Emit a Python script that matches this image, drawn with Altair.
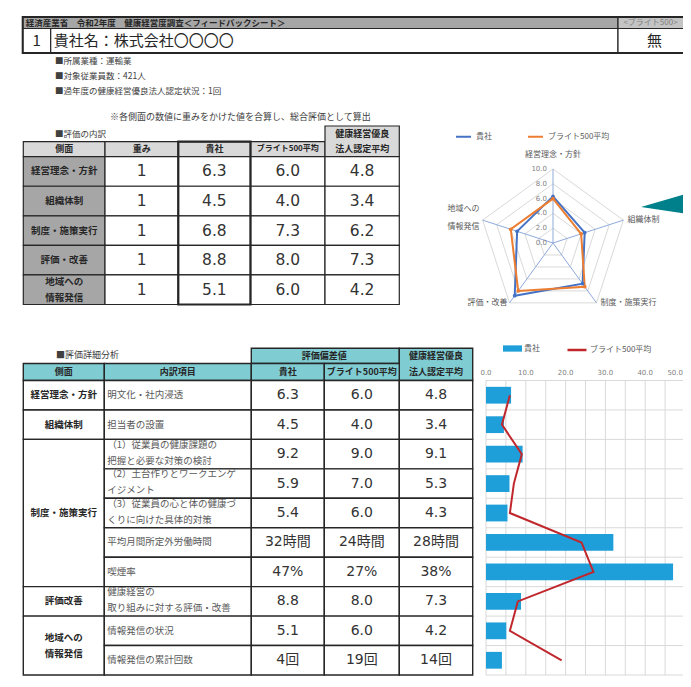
import altair as alt
import pandas as pd

# ---------------- data ----------------
sheet_title = "経済産業省　令和2年度　健康経営度調査＜フィードバックシート＞"
sheet_badge = "<ブライト500>"
company_no = "1"
company_name = "貴社名：株式会社〇〇〇〇"
bright_status = "無"
profile_lines = ["■所属業種：運輸業", "■対象従業員数：421人", "■過年度の健康経営優良法人認定状況：1回"]
weight_note = "※各側面の数値に重みをかけた値を合算し、総合評価として算出"

summary_title = "■評価の内訳"
summary_headers = ["側面", "重み", "貴社", "ブライト500平均", "健康経営優良\n法人認定平均"]
aspects = ["経営理念・方針", "組織体制", "制度・施策実行", "評価・改善", "地域への\n情報発信"]
weights = ["1", "1", "1", "1", "1"]
own_scores = [6.3, 4.5, 6.8, 8.8, 5.1]
bright_scores = [6.0, 4.0, 7.3, 8.0, 6.0]
certified_scores = [4.8, 3.4, 6.2, 7.3, 4.2]
series_names = ["貴社", "ブライト500平均"]
radar_ticks = [0, 2, 4, 6, 8, 10]

detail_title = "■評価詳細分析"
detail_group = "評価偏差値"
detail_headers = ["側面", "内訳項目", "貴社", "ブライト500平均", "健康経営優良\n法人認定平均"]
detail_aspects = ["経営理念・方針", "組織体制", "制度・施策実行", "評価改善", "地域への\n情報発信"]
detail_spans = [1, 1, 5, 1, 2]
detail_items = [
    "明文化・社内浸透",
    "担当者の設置",
    "（1）従業員の健康課題の\n把握と必要な対策の検討",
    "（2）土台作りとワークエンゲ\nイジメント",
    "（3）従業員の心と体の健康づ\nくりに向けた具体的対策",
    "平均月間所定外労働時間",
    "喫煙率",
    "健康経営の\n取り組みに対する評価・改善",
    "情報発信の状況",
    "情報発信の累計回数",
]
detail_own_labels = ["6.3", "4.5", "9.2", "5.9", "5.4", "32時間", "47%", "8.8", "5.1", "4回"]
detail_bright_labels = ["6.0", "4.0", "9.0", "7.0", "6.0", "24時間", "27%", "8.0", "6.0", "19回"]
detail_cert_labels = ["4.8", "3.4", "9.1", "5.3", "4.3", "28時間", "38%", "7.3", "4.2", "14回"]
detail_own_values = [6.3, 4.5, 9.2, 5.9, 5.4, 32, 47, 8.8, 5.1, 4]
detail_bright_values = [6.0, 4.0, 9.0, 7.0, 6.0, 24, 27, 8.0, 6.0, 19]
bar_ticks = [0, 10, 20, 30, 40, 50]
bar_grid = [0, 5, 10, 15, 20, 25, 30, 35, 40, 45, 50]

# ---------------- layout / style ----------------
M = 8
def P(v):
    return v - M

def lin(domain, rng):
    return alt.Scale(domain=list(domain), range=[P(v) for v in rng], nice=False, zero=False)

JP = "Noto Sans CJK JP"
NUM = "DejaVu Sans, Noto Sans CJK JP"
INK = "#262626"
GRAY_TXT = "#595959"
BLUE = "#4472c4"
ORANGE = "#ed7d31"
BAR_BLUE = "#1f9fd9"
RED = "#c0272d"
TEAL = "#7fccd2"

HEAD_XS = lin([0, 1, 2, 3], [22.7, 50.7, 618, 691])
HEAD_YS = lin([0, 1, 2], [17, 28.5, 53])
T1_XS = lin([0, 1, 2, 3, 4, 5], [23.3, 105, 178.3, 250.5, 325, 399.3])
T1_YS = lin([-1, 0, 1, 6], [126, 141.7, 156.7, 304.5])
T2_XS = lin([0, 1, 2, 3, 4, 5], [23.3, 104.3, 251.3, 324.3, 399.3, 472.7])
T2_YS = lin([-2, -1, 0, 10], [348.3, 363.5, 380.5, 675])
CX, CY, R = 553, 243, 74
RX = lin([-10, 10], [CX - R, CX + R])
RY = lin([-10, 10], [CY + R, CY - R])
BXS = lin([0, 50], [486, 685])
BYQ = lin([0, 10], [380.5, 675])
BYB = alt.Scale(domain=list(range(10)), range=[P(380.5), P(675)], paddingInner=0.43, paddingOuter=0.215)


def cells_frame(rows):
    df = pd.DataFrame(rows)
    df["cx"] = (df.c0 + df.c1) / 2
    df["cy"] = (df.r0 + df.r1) / 2
    df["nl"] = df.text.str.count("\n")
    return df


def rect_layer(df, xs, ys, sw=1.0, stroke=INK):
    return alt.Chart(df).mark_rect(stroke=stroke, strokeWidth=sw).encode(
        x=alt.X("c0:Q", scale=xs, axis=None), x2="c1:Q",
        y=alt.Y("r0:Q", scale=ys, axis=None), y2="r1:Q",
        fill=alt.Fill("fill:N", scale=None))


def frame_layer(df, xs, ys, sw):
    return alt.Chart(df).mark_rect(fillOpacity=0, stroke=INK, strokeWidth=sw).encode(
        x=alt.X("c0:Q", scale=xs, axis=None), x2="c1:Q",
        y=alt.Y("r0:Q", scale=ys, axis=None), y2="r1:Q")


def text_layer(df, xs, ys, size, bold=False, align="center", color=INK, font=JP, dx=0, lh=16, shift=0):
    xf = {"center": "cx", "left": "c0", "right": "c1"}[align]
    out = []
    for n in sorted(df.nl.unique()):
        part = df[df.nl == n]
        kw = dict(align=align, baseline="middle", fontSize=size, font=font, color=color,
                  lineBreak="\n", lineHeight=lh, fontWeight="bold" if bold else "normal")
        if dx:
            kw["dx"] = dx
        dy = -n * lh / 2 + (shift if n else 0)
        if dy:
            kw["dy"] = dy
        out.append(alt.Chart(part).mark_text(**kw).encode(
            x=alt.X(f"{xf}:Q", scale=xs, axis=None),
            y=alt.Y("cy:Q", scale=ys, axis=None),
            text="text:N"))
    return out


layers = []

# ---------------- header table ----------------
head = cells_frame([
    dict(c0=0, c1=2, r0=0, r1=1, fill="#a6a6a6", text=sheet_title, kind="title"),
    dict(c0=2, c1=3, r0=0, r1=1, fill="#c4c4c4", text=sheet_badge, kind="badge"),
    dict(c0=0, c1=1, r0=1, r1=2, fill="#ffffff", text=company_no, kind="big"),
    dict(c0=1, c1=2, r0=1, r1=2, fill="#ffffff", text=company_name, kind="name"),
    dict(c0=2, c1=3, r0=1, r1=2, fill="#ffffff", text=bright_status, kind="big"),
])
layers.append(rect_layer(head, HEAD_XS, HEAD_YS, sw=1.2))
layers.append(frame_layer(head.iloc[[0]].assign(c1=3, r1=2), HEAD_XS, HEAD_YS, 2))
layers += text_layer(head[head.kind == "title"], HEAD_XS, HEAD_YS, 8.5, bold=True, align="left", dx=3)
layers += text_layer(head[head.kind == "badge"], HEAD_XS, HEAD_YS, 8, color="#7f7f7f", dx=-4)
layers += text_layer(head[head.kind == "big"], HEAD_XS, HEAD_YS, 15)
layers += text_layer(head[head.kind == "name"], HEAD_XS, HEAD_YS, 15, align="left", dx=3)

# ---------------- static notes ----------------
prof = pd.DataFrame({"i": list(range(len(profile_lines))), "text": profile_lines})
layers.append(alt.Chart(prof).mark_text(align="left", baseline="middle", font=JP, fontSize=8.5, color="#404040").encode(
    x=alt.value(P(55)), y=alt.Y("i:Q", scale=lin([0, 2], [61, 91]), axis=None), text="text:N"))
notes = pd.DataFrame({"text": [weight_note]})
layers.append(alt.Chart(notes).mark_text(align="left", baseline="middle", font=JP, fontSize=9, color="#404040").encode(
    x=alt.value(P(110)), y=alt.value(P(117)), text="text:N"))
t1t = pd.DataFrame({"text": [summary_title]})
layers.append(alt.Chart(t1t).mark_text(align="left", baseline="middle", font=JP, fontSize=8.5, color="#404040").encode(
    x=alt.value(P(55)), y=alt.value(P(134)), text="text:N"))
t2t = pd.DataFrame({"text": [detail_title]})
layers.append(alt.Chart(t2t).mark_text(align="left", baseline="middle", font=JP, fontSize=9, color="#404040").encode(
    x=alt.value(P(56)), y=alt.value(P(355)), text="text:N"))

# ---------------- summary table ----------------
rows = []
for j, h in enumerate(summary_headers):
    rows.append(dict(c0=j, c1=j + 1, r0=-1 if j == 4 else 0, r1=1, fill="#d9d9d9", text=h,
                     kind="head_small" if j == 3 else "head"))
for i, a in enumerate(aspects):
    r0 = i + 1
    rows.append(dict(c0=0, c1=1, r0=r0, r1=r0 + 1, fill="#a6a6a6", text=a, kind="side"))
    rows.append(dict(c0=1, c1=2, r0=r0, r1=r0 + 1, fill="#ffffff", text=weights[i], kind="num"))
    for j, vals in enumerate([own_scores, bright_scores, certified_scores]):
        rows.append(dict(c0=2 + j, c1=3 + j, r0=r0, r1=r0 + 1, fill="#ffffff", text=f"{vals[i]:.1f}", kind="num"))
t1 = cells_frame(rows)
layers.append(rect_layer(t1, T1_XS, T1_YS, sw=1.2))
layers.append(frame_layer(pd.DataFrame([dict(c0=2, c1=3, r0=0, r1=6)]), T1_XS, T1_YS, 2.2))
layers += text_layer(t1[t1.kind == "head"], T1_XS, T1_YS, 9, bold=True, lh=15)
layers += text_layer(t1[t1.kind == "head_small"], T1_XS, T1_YS, 8, bold=True)
layers += text_layer(t1[t1.kind == "side"], T1_XS, T1_YS, 9.5, bold=True, lh=16)
layers += text_layer(t1[t1.kind == "num"], T1_XS, T1_YS, 15.5, font=NUM, color="#333333")

# ---------------- radar chart ----------------
radar_rows = []
for s, vals in zip(series_names, [own_scores, bright_scores]):
    for k in range(6):
        radar_rows.append(dict(s=s, k=k, v=vals[k % 5]))
radar = pd.DataFrame(radar_rows)
grid = pd.DataFrame([dict(r=r, k=k, v=r) for r in radar_ticks[1:] for k in range(6)])
spokes = pd.DataFrame({"k": list(range(5)), "v": [radar_ticks[-1]] * 5})
ticks = pd.DataFrame({"t": radar_ticks})
labels = pd.DataFrame({"k": list(range(5)), "text": aspects, "v": [radar_ticks[-1]] * 5})


def polar(ch):
    return ch.transform_calculate(
        ang="2*PI*(datum.k % 5)/5",
        rx="datum.v*sin(datum.ang)",
        ry="datum.v*cos(datum.ang)",
        z="0")


layers.append(polar(alt.Chart(grid)).mark_line(color="#d9d9d9", strokeWidth=1).encode(
    x=alt.X("rx:Q", scale=RX, axis=None), y=alt.Y("ry:Q", scale=RY, axis=None),
    detail="r:N", order="k:Q"))
layers.append(polar(alt.Chart(spokes)).mark_rule(color="#8eaadb", strokeWidth=1).encode(
    x=alt.X("z:Q", scale=RX, axis=None), y=alt.Y("z:Q", scale=RY, axis=None),
    x2="rx:Q", y2="ry:Q"))
layers.append(alt.Chart(ticks).transform_calculate(z="0", label="format(datum.t, '.1f')").mark_text(
    align="right", baseline="middle", dx=-6, font="DejaVu Sans", fontSize=7, color="#7f7f7f").encode(
    x=alt.X("z:Q", scale=RX, axis=None), y=alt.Y("t:Q", scale=RY, axis=None), text="label:N"))
lab_style = [([0], "center", 0, -14), ([1, 2], "left", 4, 0), ([3], "right", -2, 0), ([4], "right", -3, -11)]
for ks, al, dx, dy in lab_style:
    kw = dict(align=al, baseline="middle", font=JP, fontSize=8, color=GRAY_TXT, lineBreak="\n", lineHeight=18)
    if dx:
        kw["dx"] = dx
    if dy:
        kw["dy"] = dy
    layers.append(polar(alt.Chart(labels[labels.k.isin(ks)])).mark_text(**kw).encode(
        x=alt.X("rx:Q", scale=RX, axis=None), y=alt.Y("ry:Q", scale=RY, axis=None), text="text:N"))

radar_color = alt.Scale(domain=series_names, range=[BLUE, ORANGE])
layers.append(polar(alt.Chart(radar)).mark_line(strokeWidth=2).encode(
    x=alt.X("rx:Q", scale=RX, axis=None), y=alt.Y("ry:Q", scale=RY, axis=None),
    color=alt.Color("s:N", scale=radar_color, legend=alt.Legend(
        orient="none", legendX=P(455), legendY=P(128), direction="horizontal", title=None,
        labelFont=JP, labelFontSize=8, labelColor=GRAY_TXT, symbolType="stroke", symbolStrokeWidth=2,
        symbolSize=225, columnPadding=32, labelOffset=4, padding=0)),
    order="k:Q"))
layers.append(polar(alt.Chart(radar[radar.k < 5])).mark_point(filled=True, size=14, opacity=1).encode(
    x=alt.X("rx:Q", scale=RX, axis=None), y=alt.Y("ry:Q", scale=RY, axis=None),
    color=alt.Color("s:N", scale=radar_color, legend=None)))

# decorative pointer
pointer = pd.DataFrame({"text": ["pointer"]})
layers.append(alt.Chart(pointer).mark_point(shape="M-1,0L1,-0.58L1,0.3Z", filled=True, color="#00808a",
                                            size=10000, opacity=1).encode(
    x=alt.value(P(691)), y=alt.value(P(207))))

# ---------------- detail table ----------------
rows = []
rows.append(dict(c0=2, c1=4, r0=-2, r1=-1, fill=TEAL, text=detail_group, kind="head"))
rows.append(dict(c0=4, c1=5, r0=-2, r1=0, fill=TEAL, text=detail_headers[4], kind="head"))
for j in range(4):
    rows.append(dict(c0=j, c1=j + 1, r0=-1, r1=0, fill=TEAL, text=detail_headers[j], kind="head"))
start = 0
for a, span in zip(detail_aspects, detail_spans):
    rows.append(dict(c0=0, c1=1, r0=start, r1=start + span, fill="#ffffff", text=a, kind="side"))
    start += span
for i, item in enumerate(detail_items):
    rows.append(dict(c0=1, c1=2, r0=i, r1=i + 1, fill="#ffffff", text=item, kind="item"))
    for j, labs in enumerate([detail_own_labels, detail_bright_labels, detail_cert_labels]):
        rows.append(dict(c0=2 + j, c1=3 + j, r0=i, r1=i + 1, fill="#ffffff", text=labs[i], kind="num"))
t2 = cells_frame(rows)
layers.append(rect_layer(t2, T2_XS, T2_YS, sw=1.4))
layers += text_layer(t2[t2.kind == "head"], T2_XS, T2_YS, 9, bold=True, lh=16)
layers += text_layer(t2[t2.kind == "side"], T2_XS, T2_YS, 9.5, bold=True, lh=16)
layers += text_layer(t2[t2.kind == "item"], T2_XS, T2_YS, 9.5, align="left", dx=3, color=GRAY_TXT, lh=16, shift=-1.5)
layers += text_layer(t2[t2.kind == "num"], T2_XS, T2_YS, 14, font=NUM, color="#333333")

# ---------------- bar chart ----------------
vgrid = pd.DataFrame({"g": bar_grid})
hgrid = pd.DataFrame({"e": list(range(11))})
layers.append(alt.Chart(vgrid).transform_calculate(y0="0", y1="10").mark_rule(color="#d9d9d9", strokeWidth=1).encode(
    x=alt.X("g:Q", scale=BXS, axis=None), y=alt.Y("y0:Q", scale=BYQ, axis=None), y2="y1:Q"))
layers.append(alt.Chart(hgrid).transform_calculate(x0="0", x1="50").mark_rule(color="#d9d9d9", strokeWidth=1).encode(
    y=alt.Y("e:Q", scale=BYQ, axis=None), x=alt.X("x0:Q", scale=BXS, axis=None), x2="x1:Q"))
tick_df = pd.DataFrame({"t": bar_ticks})
for part, al, dx in [(tick_df[tick_df.t < bar_ticks[-1]], "center", 0), (tick_df[tick_df.t == bar_ticks[-1]], "right", -2)]:
    kw = dict(align=al, baseline="middle", font="DejaVu Sans", fontSize=7, color="#7f7f7f")
    if dx:
        kw["dx"] = dx
    layers.append(alt.Chart(part).transform_calculate(
        yy="-0.27", label="format(datum.t, '.1f')").mark_text(**kw).encode(
        x=alt.X("t:Q", scale=BXS, axis=None), y=alt.Y("yy:Q", scale=BYQ, axis=None), text="label:N"))

bars = pd.DataFrame({"i": list(range(10)), "own": detail_own_values, "bright": detail_bright_values,
                     "s1": [series_names[0]] * 10, "s2": [series_names[1]] * 10})
layers.append(alt.Chart(bars).mark_bar().encode(
    x=alt.X("own:Q", scale=BXS, axis=None),
    y=alt.Y("i:O", scale=BYB, axis=None),
    color=alt.Color("s1:N", scale=alt.Scale(domain=[series_names[0]], range=[BAR_BLUE]), legend=alt.Legend(
        orient="none", legendX=P(503), legendY=P(339), title=None, labelFont=JP, labelFontSize=8,
        labelColor=GRAY_TXT, symbolType="M-1,-0.33H1V0.33H-1Z", symbolSize=361, symbolStrokeWidth=0,
        labelOffset=2, padding=0))))
layers.append(alt.Chart(bars).mark_line(strokeWidth=2).encode(
    x=alt.X("bright:Q", scale=BXS, axis=None),
    y=alt.Y("i:O", scale=BYB, axis=None),
    order=alt.Order("i:Q"),
    color=alt.Color("s2:N", scale=alt.Scale(domain=[series_names[1]], range=[RED]), legend=alt.Legend(
        orient="none", legendX=P(566), legendY=P(339), title=None, labelFont=JP, labelFontSize=8,
        labelColor=GRAY_TXT, symbolType="stroke", symbolSize=361, symbolStrokeWidth=2.5,
        labelOffset=2, padding=0))))

chart = alt.layer(*layers).resolve_scale(
    x="independent", y="independent", color="independent"
).properties(
    width=675, height=671, padding=0, autosize=alt.AutoSizeParams(type="none"), background="white"
).configure_view(stroke=None)

chart.save("out.html", embed_options={"renderer": "svg", "actions": False})
